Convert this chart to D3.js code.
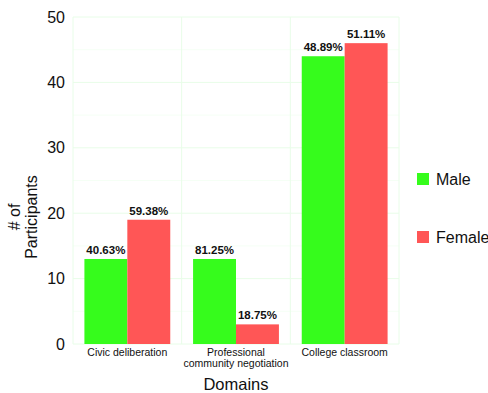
<!DOCTYPE html>
<html>
<head>
<meta charset="utf-8">
<script src="https://cdn.jsdelivr.net/npm/d3@7"></script>
<style>
body{margin:0;background:#fff;}
text{font-family:"Liberation Sans",Arial,sans-serif;}
</style>
</head>
<body>
<div id="chart"></div>
<script>
// domains and counts per gender
var domains=["Civic deliberation","Professional community negotiation","College classroom"];
var domainLines=[["Civic deliberation"],["Professional","community negotiation"],["College classroom"]];
var genders=["Male","Female"];
var male=[13,13,44];
var female=[19,3,46];
var malePct=["40.63%","81.25%","48.89%"];
var femalePct=["59.38%","18.75%","51.11%"];
var yTicks=[0,10,20,30,40,50];
var yMinor=[5,15,25,35,45];

var colors={Male:"#36fc1c",Female:"#ff5656"};

var width=488,height=393,
    margin={left:73,top:17,right:89,bottom:49},
    w=width-margin.left-margin.right,
    h=height-margin.top-margin.bottom;

var data=[];
domains.forEach(function(d,i){
    data.push({domain:d,gender:"Male",value:male[i],label:malePct[i]});
    data.push({domain:d,gender:"Female",value:female[i],label:femalePct[i]});
});

var svg=d3.select("#chart").append("svg")
    .attr("width",width)
    .attr("height",height);

var chart=svg.append("g")
    .attr("transform","translate("+margin.left+","+margin.top+")");

var x=d3.scaleBand().domain(domains).range([0,w]);
var x1=d3.scaleBand().domain(genders).range([0,x.bandwidth()*0.79]);
var off=(x.bandwidth()-x1.range()[1])/2;
var y=d3.scaleLinear().domain([0,50]).range([h,0]);

// grid
chart.selectAll(".minor").data(yMinor).enter().append("line")
    .attr("x1",0).attr("x2",w)
    .attr("y1",function(d){return y(d);}).attr("y2",function(d){return y(d);})
    .attr("stroke","#f5fff5");
chart.selectAll(".major").data(yTicks).enter().append("line")
    .attr("x1",0).attr("x2",w)
    .attr("y1",function(d){return y(d);}).attr("y2",function(d){return y(d);})
    .attr("stroke","#e8fde8");
var vx=[0].concat(domains.map(function(d){return x(d)+x.bandwidth();}));
chart.selectAll(".vgrid").data(vx).enter().append("line")
    .attr("x1",function(d){return d;}).attr("x2",function(d){return d;})
    .attr("y1",0).attr("y2",h)
    .attr("stroke","#e8fde8");

// bars
var bar=chart.selectAll(".bar").data(data).enter().append("g")
    .attr("transform",function(d){return "translate("+(x(d.domain)+off+x1(d.gender))+",0)";});

bar.append("rect")
    .attr("y",function(d){return y(d.value);})
    .attr("height",function(d){return h-y(d.value);})
    .attr("width",x1.bandwidth())
    .attr("fill",function(d){return colors[d.gender];});

bar.append("text")
    .text(function(d){return d.label;})
    .attr("x",x1.bandwidth()/2)
    .attr("y",function(d){return y(d.value)-5;})
    .attr("text-anchor","middle")
    .attr("font-size","11.5px")
    .attr("font-weight","bold")
    .attr("fill","#111");

// y axis labels
var yAxis=chart.append("g").call(d3.axisLeft(y).tickValues(yTicks).tickSize(0).tickPadding(8));
yAxis.select(".domain").remove();
yAxis.selectAll("text").attr("font-size","16px").attr("fill","#111")
    .attr("font-family","Liberation Sans, Arial, sans-serif");

// x axis labels
var xl=chart.selectAll(".xl").data(domains).enter().append("text")
    .attr("text-anchor","middle")
    .attr("font-size","10.5px")
    .attr("fill","#111")
    .attr("transform",function(d){return "translate("+(x(d)+x.bandwidth()/2)+","+(h+12)+")";});
xl.selectAll("tspan").data(function(d,i){return domainLines[i];}).enter().append("tspan")
    .attr("x",0)
    .attr("dy",function(d,i){return i?"1.05em":0;})
    .text(function(d){return d;});

// axis titles
svg.append("text").text("Domains")
    .attr("x",margin.left+w/2).attr("y",390)
    .attr("text-anchor","middle").attr("font-size","16.5px").attr("fill","#111");

var yt=svg.append("text")
    .attr("transform","translate(20,217) rotate(-90)")
    .attr("text-anchor","middle").attr("font-size","16px").attr("fill","#111");
yt.append("tspan").attr("x",0).text("# of");
yt.append("tspan").attr("x",0).attr("dy","1.05em").text("Participants");

// legend
var legend=svg.selectAll(".legend").data(genders).enter().append("g")
    .attr("transform",function(d,i){return "translate(417,"+(173+i*58)+")";});
legend.append("rect").attr("width",12).attr("height",12)
    .attr("fill",function(d){return colors[d];});
legend.append("text").text(function(d){return d;})
    .attr("x",19).attr("y",11.5)
    .attr("font-size","16px").attr("fill","#111");
</script>
</body>
</html>
